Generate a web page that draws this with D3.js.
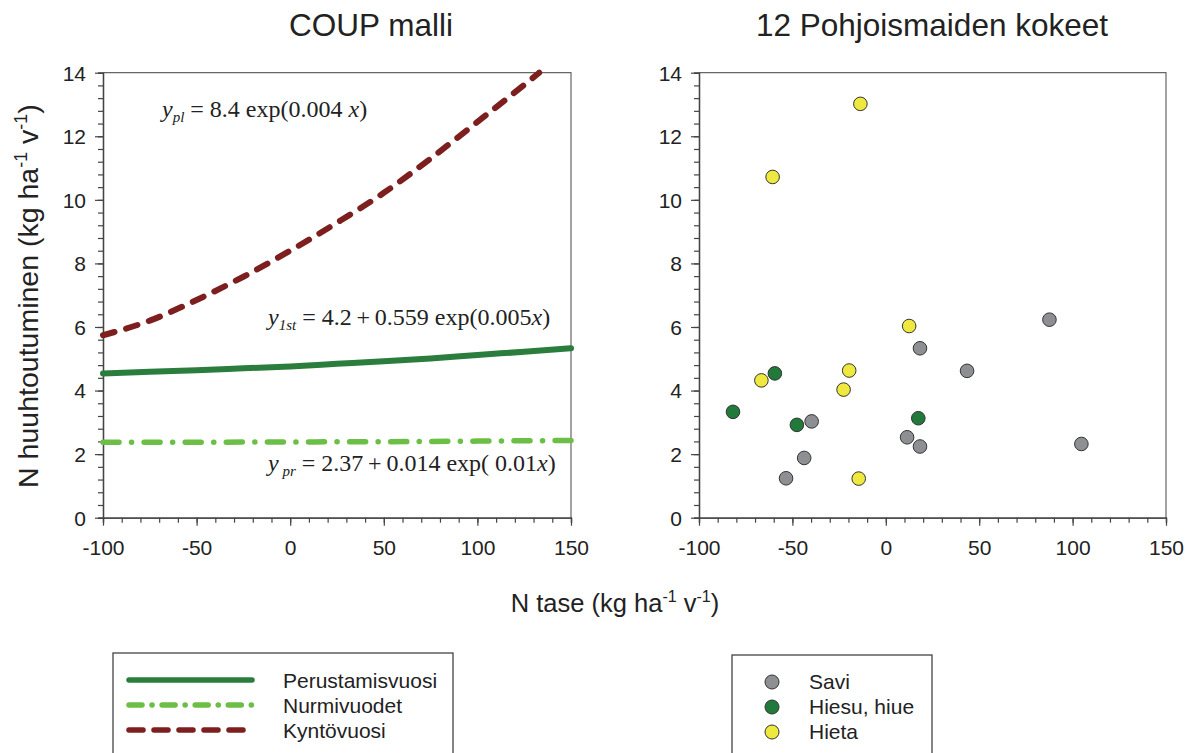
<!DOCTYPE html>
<html>
<head>
<meta charset="utf-8">
<script src="https://cdn.jsdelivr.net/npm/d3@7"></script>
<style>
  body { margin: 0; background: #fff; }
  svg { display: block; font-family: "Liberation Sans", Arial, sans-serif; }
</style>
</head>
<body>
<div id="chart"></div>
<script>
// tick labels
const xTicks = [-100, -50, 0, 50, 100, 150];
const yTicks = [0, 2, 4, 6, 8, 10, 12, 14];

// COUP model curves
const lineX = [-100, -75, -50, -25, 0, 25, 50, 75, 100, 125, 150];
const perustamisvuosi = [4.54, 4.59, 4.64, 4.70, 4.76, 4.84, 4.92, 5.01, 5.12, 5.22, 5.33];
const nurmivuodet = [2.37, 2.37, 2.37, 2.38, 2.38, 2.39, 2.39, 2.40, 2.41, 2.42, 2.43];
const kyntoX = [-100, -75, -50, -25, 0, 25, 50, 75, 100, 125, 133];
const kyntovuosi = [5.74, 6.2, 6.85, 7.58, 8.4, 9.28, 10.22, 11.3, 12.45, 13.62, 14.0];

// nordic field experiments
const saviX = [87.6, 18.3, 43.5, -39.7, -43.7, -53.4, 11.4, 18.3, 104.7];
const saviY = [6.23, 5.33, 4.62, 3.03, 1.88, 1.24, 2.53, 2.24, 2.32];
const hiesuX = [-59.4, -81.8, -47.6, 17.4];
const hiesuY = [4.54, 3.33, 2.92, 3.13];
const hietaX = [-60.6, -13.6, -66.6, 12.5, -19.6, -22.6, -14.5];
const hietaY = [10.72, 13.02, 4.32, 6.03, 4.63, 4.03, 1.23];

const W = 1191, H = 753;
const plotTop = 72.7, plotBottom = 517.7;

const svg = d3.select('#chart').append('svg')
  .attr('width', W).attr('height', H);

const y = d3.scaleLinear().domain([0, 14]).range([plotBottom, plotTop]);

function panel(left, right, title, titleX) {
  const x = d3.scaleLinear().domain([-100, 150]).range([left, right]);
  const g = svg.append('g');

  // frame top/right
  g.append('path')
    .attr('d', `M${left},${plotTop}H${right}V${plotBottom}`)
    .attr('fill', 'none').attr('stroke', '#666').attr('stroke-width', 1.2);

  // minor ticks
  const minorX = g.append('g').attr('transform', `translate(0,${plotBottom})`)
    .call(d3.axisBottom(x).tickValues(d3.range(-100, 151, 10)).tickSize(5).tickFormat(''));
  const minorY = g.append('g').attr('transform', `translate(${left},0)`)
    .call(d3.axisLeft(y).tickValues(d3.range(0, 14.01, 0.4)).tickSize(5).tickFormat(''));

  const ax = g.append('g').attr('transform', `translate(0,${plotBottom})`)
    .call(d3.axisBottom(x).tickValues(xTicks).tickFormat(d => String(d))
      .tickSize(8).tickSizeOuter(0).tickPadding(14));
  const ay = g.append('g').attr('transform', `translate(${left},0)`)
    .call(d3.axisLeft(y).tickValues(yTicks).tickFormat(d => String(d))
      .tickSize(8).tickSizeOuter(0).tickPadding(9));

  [minorX, minorY, ax, ay].forEach(a => {
    a.selectAll('path').attr('stroke', '#444').attr('stroke-width', 1.3);
    a.selectAll('line').attr('stroke', '#444').attr('stroke-width', 1.2);
  });
  [ax, ay].forEach(a => a.selectAll('text')
    .attr('font-size', 21).attr('fill', '#222').attr('font-family', '"Liberation Sans", Arial, sans-serif'));
  ax.selectAll('text').attr('dy', '0.71em');
  ay.selectAll('text').attr('dy', '0.35em');

  svg.append('text')
    .attr('x', titleX).attr('y', 36)
    .attr('text-anchor', 'middle')
    .attr('font-size', 31.5).attr('fill', '#222')
    .text(title);

  return x;
}

// ---- left panel
const xl = panel(103, 571, 'COUP malli', 371);

const line = (xs, scaleX) => d3.line()
  .x((d, i) => scaleX(xs[i]))
  .y(d => y(d))
  .curve(d3.curveMonotoneX);

const green = '#2b7d3d', light = '#6cbf46', red = '#7d1f1f';

svg.append('path').datum(nurmivuodet)
  .attr('d', line(lineX, xl))
  .attr('fill', 'none').attr('stroke', light).attr('stroke-width', 5.5)
  .attr('stroke-linecap', 'round').attr('stroke-dasharray', '16,12.5,0.1,12.5');

svg.append('path').datum(perustamisvuosi)
  .attr('d', line(lineX, xl))
  .attr('fill', 'none').attr('stroke', green).attr('stroke-width', 6)
  .attr('stroke-linecap', 'round');

svg.append('path').datum(kyntovuosi)
  .attr('d', line(kyntoX, xl))
  .attr('fill', 'none').attr('stroke', red).attr('stroke-width', 6)
  .attr('stroke-linecap', 'round').attr('stroke-dasharray', '12,12');

// equations
function equation(xPos, yPos, sub, body) {
  const t = svg.append('text')
    .attr('x', xPos).attr('y', yPos)
    .attr('font-family', '"Liberation Serif", "Times New Roman", serif')
    .attr('font-size', 24).attr('fill', '#222');
  t.append('tspan').attr('font-style', 'italic').text('y');
  t.append('tspan').attr('font-style', 'italic').attr('font-size', 15).attr('dy', 5).text(sub);
  t.append('tspan').attr('dy', -5).text(body);
  t.append('tspan').attr('font-style', 'italic').text('x');
  t.append('tspan').text(')');
}
equation(162, 117, 'pl', ' = 8.4 exp(0.004 ');
equation(268, 325, '1st', ' = 4.2\u2009+\u20090.559 exp(0.005');
equation(268, 471, ' pr', ' = 2.37\u2009+\u20090.014 exp( 0.01');

// ---- right panel
const xr = panel(699, 1166, '12 Pohjoismaiden kokeet', 932);

const groups = [
  { xs: saviX, ys: saviY, fill: '#8d8f92' },
  { xs: hiesuX, ys: hiesuY, fill: '#217a39' },
  { xs: hietaX, ys: hietaY, fill: '#efe83f' }
];
groups.forEach(gr => {
  svg.append('g').selectAll('circle')
    .data(gr.xs)
    .join('circle')
    .attr('cx', d => xr(d))
    .attr('cy', (d, i) => y(gr.ys[i]))
    .attr('r', 6.8)
    .attr('fill', gr.fill)
    .attr('stroke', '#333').attr('stroke-width', 1);
});

// ---- axis titles
const yl = svg.append('text')
  .attr('transform', 'translate(38,296) rotate(-90)')
  .attr('text-anchor', 'middle')
  .attr('font-size', 28.5).attr('fill', '#222');
yl.append('tspan').text('N huuhtoutuminen (kg ha');
yl.append('tspan').attr('font-size', 18).attr('dy', -11).text('-1');
yl.append('tspan').attr('dy', 11).text(' v');
yl.append('tspan').attr('font-size', 18).attr('dy', -11).text('-1');
yl.append('tspan').attr('dy', 11).text(')');

const xlab = svg.append('text')
  .attr('x', 615).attr('y', 612)
  .attr('text-anchor', 'middle')
  .attr('font-size', 25.5).attr('fill', '#222');
xlab.append('tspan').text('N tase (kg ha');
xlab.append('tspan').attr('font-size', 16).attr('dy', -10).text('-1');
xlab.append('tspan').attr('dy', 10).text(' v');
xlab.append('tspan').attr('font-size', 16).attr('dy', -10).text('-1');
xlab.append('tspan').attr('dy', 10).text(')');

// ---- legends
const legL = svg.append('g');
legL.append('rect').attr('x', 113).attr('y', 653).attr('width', 340).attr('height', 120)
  .attr('fill', 'none').attr('stroke', '#444').attr('stroke-width', 1.3);
const legLines = [
  { name: 'Perustamisvuosi', color: green, dash: null },
  { name: 'Nurmivuodet', color: light, dash: '13,10,0.1,10' },
  { name: 'Kyntövuosi', color: red, dash: '14,11' }
];
legLines.forEach((d, i) => {
  const ly = 680 + i * 25;
  legL.append('line')
    .attr('x1', 129).attr('x2', 252).attr('y1', ly).attr('y2', ly)
    .attr('stroke', d.color).attr('stroke-width', 5.5).attr('stroke-linecap', 'round')
    .attr('stroke-dasharray', d.dash);
  legL.append('text').attr('x', 283).attr('y', ly + 8)
    .attr('font-size', 21).attr('fill', '#222').text(d.name);
});

const legR = svg.append('g');
legR.append('rect').attr('x', 732).attr('y', 655).attr('width', 200).attr('height', 120)
  .attr('fill', 'none').attr('stroke', '#444').attr('stroke-width', 1.3);
const legPts = ['Savi', 'Hiesu, hiue', 'Hieta'];
legPts.forEach((name, i) => {
  const ly = 682 + i * 25;
  legR.append('circle').attr('cx', 772).attr('cy', ly).attr('r', 7)
    .attr('fill', groups[i].fill).attr('stroke', '#333').attr('stroke-width', 1);
  legR.append('text').attr('x', 809).attr('y', ly + 7)
    .attr('font-size', 21).attr('fill', '#222').text(name);
});
</script>
</body>
</html>
